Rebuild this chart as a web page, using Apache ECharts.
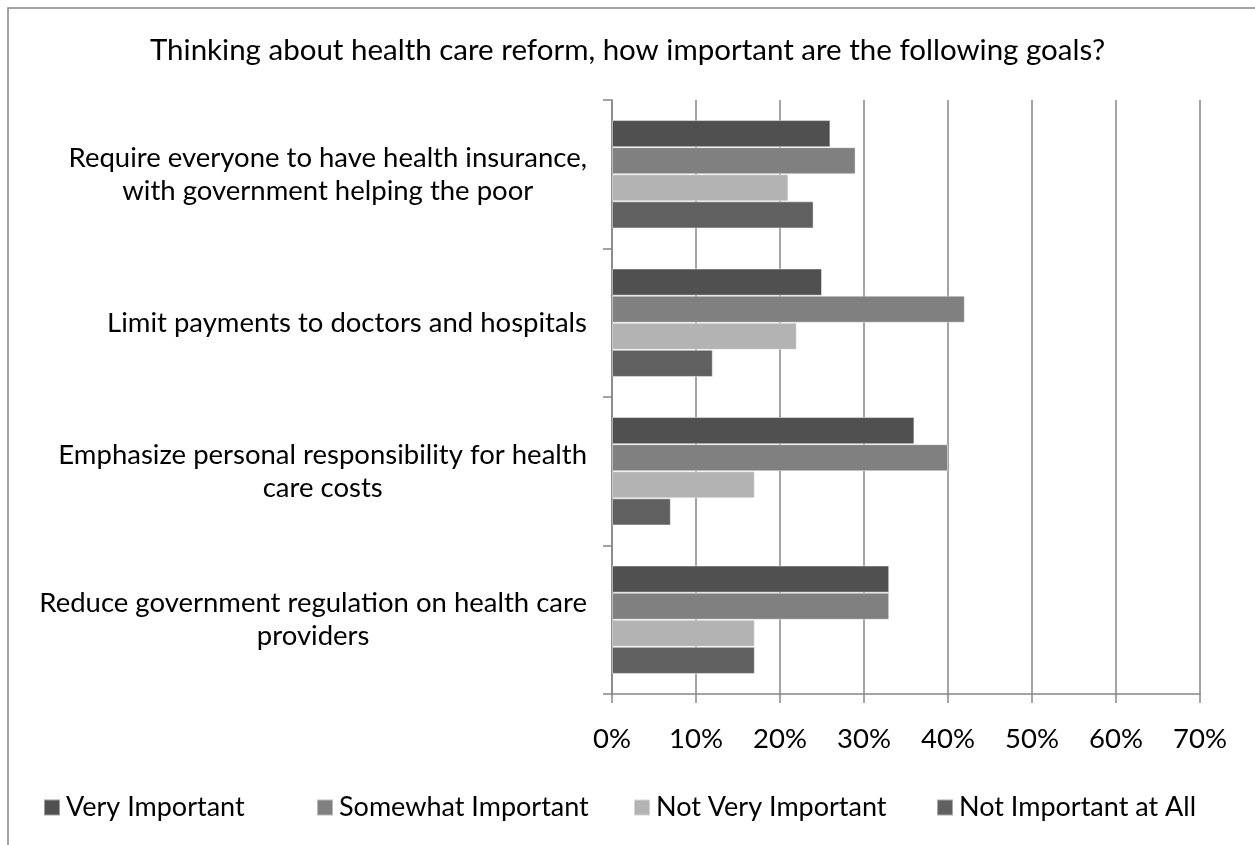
<!DOCTYPE html>
<html>
<head>
<meta charset="utf-8">
<title>Health care reform goals</title>
<script src="https://cdn.jsdelivr.net/npm/echarts@6/dist/echarts.min.js"></script>
<style>
  html, body { margin: 0; padding: 0; background: #fff; }
  #chart { width: 1255px; height: 845px; }
</style>
</head>
<body>
<div id="chart"></div>
<script>
// Survey goals (top to bottom) and share of respondents per answer, in percent
const goals = [
  'Require everyone to have health insurance,\nwith government helping the poor',
  'Limit payments to doctors and hospitals',
  'Emphasize personal responsibility for health\ncare costs',
  'Reduce government regulation on health care\nproviders'
];
const veryImportant      = [26, 25, 36, 33];
const somewhatImportant  = [29, 42, 40, 33];
const notVeryImportant   = [21, 22, 17, 17];
const notImportantAtAll  = [24, 12, 7, 17];

const seriesNames  = ['Very Important', 'Somewhat Important', 'Not Very Important', 'Not Important at All'];
const seriesColors = ['#505050', '#808080', '#b3b3b3', '#606060'];
const seriesValues = [veryImportant, somewhatImportant, notVeryImportant, notImportantAtAll];

const FONT = 'Lato';
const GRID_GREY = '#868686';

// left edge of each legend entry along the bottom row
const legendLefts = [43, 316, 633, 936];

const chart = echarts.init(document.getElementById('chart'), null, { renderer: 'canvas' });

chart.setOption({
  animation: false,
  backgroundColor: '#ffffff',
  textStyle: { fontFamily: FONT },
  title: {
    text: 'Thinking about health care reform, how important are the following goals?',
    left: 'center',
    top: 30,
    textStyle: { fontFamily: FONT, fontSize: 29.5, fontWeight: 'normal', color: '#000' }
  },
  graphic: [{
    // outer frame of the chart area
    type: 'rect',
    shape: { x: 8, y: 8, width: 1300, height: 900 },
    style: { fill: 'none', stroke: GRID_GREY, lineWidth: 1.5 },
    silent: true
  }],
  legend: seriesNames.map((name, i) => ({
    data: [name],
    left: legendLefts[i],
    top: 794,
    padding: 0,
    itemWidth: 16,
    itemHeight: 16,
    icon: 'rect',
    selectedMode: false,
    textStyle: { fontFamily: FONT, fontSize: 27, color: '#000', padding: [0, 0, 0, 1] }
  })),
  grid: { left: 612, top: 100, right: 55, bottom: 151, containLabel: false },
  xAxis: {
    type: 'value',
    min: 0,
    max: 70,
    interval: 10,
    axisLine: { show: true, lineStyle: { color: GRID_GREY, width: 1.5 } },
    axisTick: { show: true, length: 9, lineStyle: { color: GRID_GREY, width: 1.5 } },
    splitLine: { show: true, lineStyle: { color: GRID_GREY, width: 1.5 } },
    axisLabel: {
      formatter: '{value}%',
      margin: 31,
      fontFamily: FONT,
      fontSize: 27.5,
      color: '#000'
    }
  },
  yAxis: {
    type: 'category',
    inverse: true,
    data: goals,
    axisLine: { show: true, lineStyle: { color: GRID_GREY, width: 1.5 } },
    axisTick: { show: true, length: 9, lineStyle: { color: GRID_GREY, width: 1.5 } },
    axisLabel: {
      // block sits right of the labels column, each line centred within it
      align: 'right',
      margin: 25,
      formatter: (value) => value.split('\n').map((line) => '{c|' + line + '}').join('\n'),
      rich: {
        c: {
          align: 'center',
          fontFamily: FONT,
          fontSize: 27.5,
          lineHeight: 33,
          color: '#000'
        }
      },
      fontFamily: FONT,
      fontSize: 27.5,
      lineHeight: 33,
      color: '#000'
    }
  },
  series: seriesNames.map((name, i) => ({
    name: name,
    type: 'bar',
    data: seriesValues[i],
    barGap: '0%',
    barCategoryGap: '27%',
    itemStyle: {
      color: seriesColors[i],
      borderColor: 'rgba(255,255,255,0.45)',
      borderWidth: 1
    }
  }))
});
</script>
</body>
</html>
